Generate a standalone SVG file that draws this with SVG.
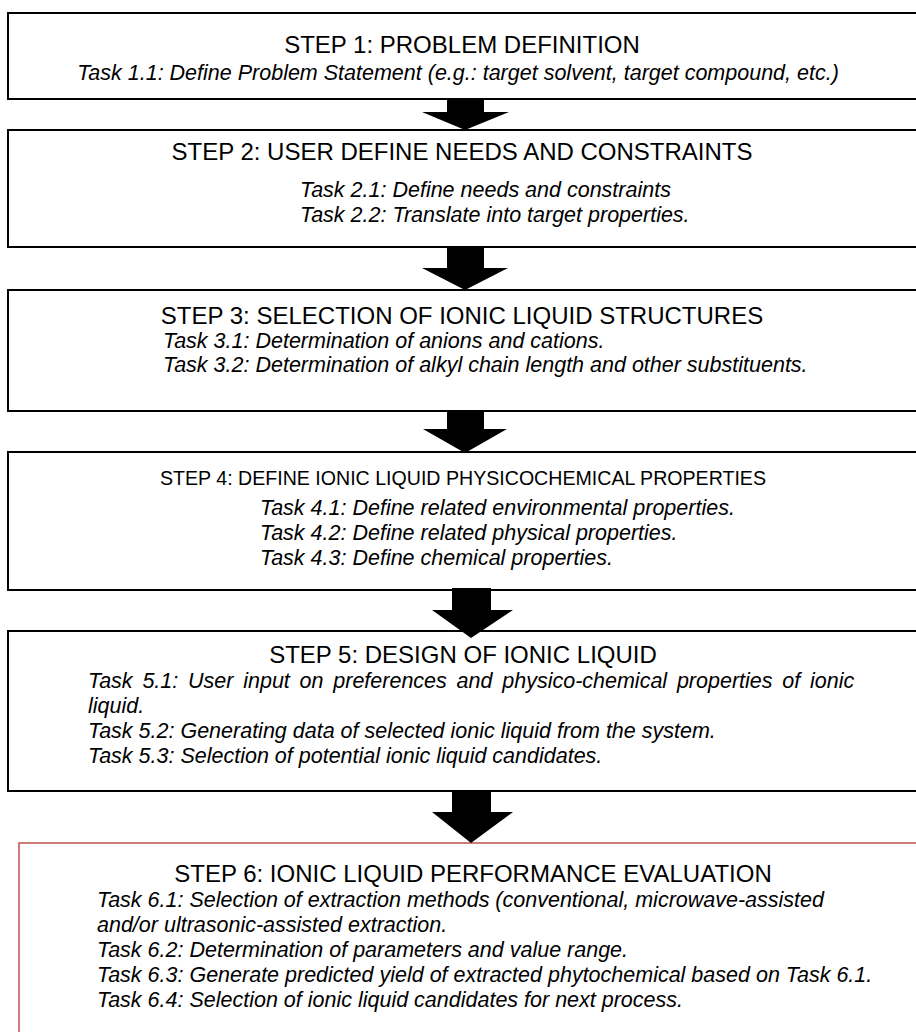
<svg xmlns="http://www.w3.org/2000/svg" width="916" height="1032" viewBox="0 0 916 1032">
<style>
.box{fill:#fff;stroke:#000;stroke-width:2}
.box6{fill:#fff;stroke:#C0504D;stroke-width:1.5}
.title{font-family:"Liberation Sans",Arial,sans-serif;font-size:24px;fill:#000}
.task{font-family:"Liberation Sans",Arial,sans-serif;font-size:21.5px;font-style:italic;fill:#000}
.arrow{fill:#000}
</style>
<rect x="0" y="0" width="916" height="1032" fill="#fff"/>
<g id="step1">
<rect class="box" x="8" y="13" width="1000" height="86"/>
<text class="title" x="462" y="53" text-anchor="middle">STEP 1: PROBLEM DEFINITION</text>
<text class="task" x="458" y="80" text-anchor="middle">Task 1.1: Define Problem Statement (e.g.: target solvent, target compound, etc.)</text>
</g>
<g id="step2">
<rect class="box" x="8" y="130" width="1000" height="117"/>
<text class="title" x="462" y="160" text-anchor="middle">STEP 2: USER DEFINE NEEDS AND CONSTRAINTS</text>
<text class="task" x="300" y="197">Task 2.1: Define needs and constraints</text>
<text class="task" x="300" y="222">Task 2.2: Translate into target properties.</text>
</g>
<g id="step3">
<rect class="box" x="8" y="290" width="1000" height="121"/>
<text class="title" x="462" y="324" text-anchor="middle">STEP 3: SELECTION OF IONIC LIQUID STRUCTURES</text>
<text class="task" x="163" y="348">Task 3.1: Determination of anions and cations.</text>
<text class="task" x="163" y="372">Task 3.2: Determination of alkyl chain length and other substituents.</text>
</g>
<g id="step4">
<rect class="box" x="8" y="452" width="1000" height="138"/>
<text class="title" x="160" y="485" style="font-size:21px" textLength="606" lengthAdjust="spacingAndGlyphs">STEP 4: DEFINE IONIC LIQUID PHYSICOCHEMICAL PROPERTIES</text>
<text class="task" x="260" y="515">Task 4.1: Define related environmental properties.</text>
<text class="task" x="260" y="540">Task 4.2: Define related physical properties.</text>
<text class="task" x="260" y="565">Task 4.3: Define chemical properties.</text>
</g>
<g id="step5">
<rect class="box" x="8" y="631" width="1000" height="160"/>
<text class="title" x="463" y="663" text-anchor="middle">STEP 5: DESIGN OF IONIC LIQUID</text>
<text class="task" x="88" y="688" style="word-spacing:3.8px">Task 5.1: User input on preferences and physico-chemical properties of ionic</text>
<text class="task" x="88" y="713">liquid.</text>
<text class="task" x="88" y="738">Task 5.2: Generating data of selected ionic liquid from the system.</text>
<text class="task" x="88" y="763">Task 5.3: Selection of potential ionic liquid candidates.</text>
</g>
<g id="step6">
<rect class="box6" x="19" y="843" width="1000" height="300"/>
<text class="title" x="473" y="882" text-anchor="middle">STEP 6: IONIC LIQUID PERFORMANCE EVALUATION</text>
<text class="task" x="97" y="907">Task 6.1: Selection of extraction methods (conventional, microwave-assisted</text>
<text class="task" x="97" y="932">and/or ultrasonic-assisted extraction.</text>
<text class="task" x="97" y="957">Task 6.2: Determination of parameters and value range.</text>
<text class="task" x="97" y="982">Task 6.3: Generate predicted yield of extracted phytochemical based on Task 6.1.</text>
<text class="task" x="97" y="1007">Task 6.4: Selection of ionic liquid candidates for next process.</text>
</g>
<g id="connectors">
<polygon class="arrow" points="447,98 484,98 484,112 509,112 465,130 422,112 447,112"/>
<polygon class="arrow" points="447,246 484,246 484,268 508,268 465,290 422,268 447,268"/>
<polygon class="arrow" points="447,410 484,410 484,429 507,429 465,453 423,429 447,429"/>
<polygon class="arrow" points="452,588 491,588 491,610 513,610 471,638 432,610 452,610"/>
<polygon class="arrow" points="452,790 491,790 491,812 513,812 471,843 432,812 452,812"/>
</g>
</svg>
